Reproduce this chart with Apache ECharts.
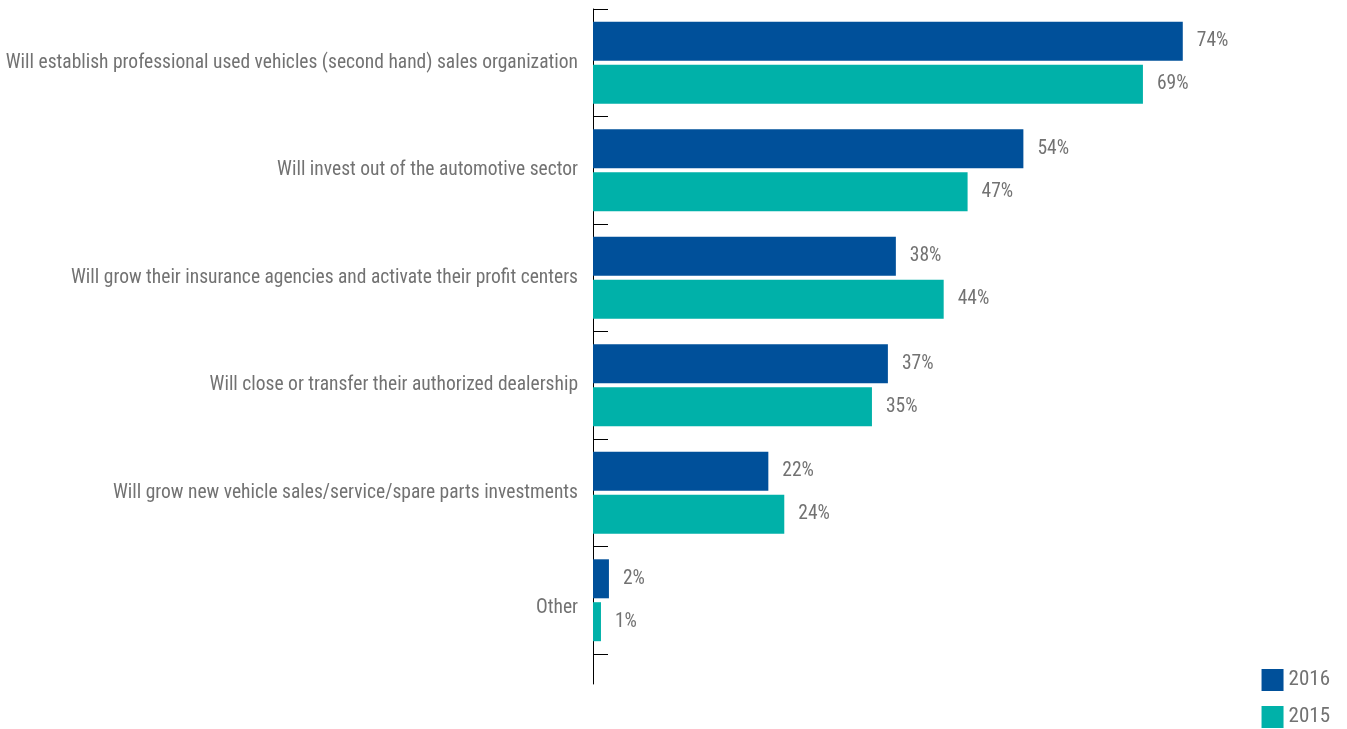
<!DOCTYPE html>
<html>
<head>
<meta charset="utf-8">
<script src="https://cdn.jsdelivr.net/npm/echarts@6/dist/echarts.min.js"></script>
<style>
html,body{margin:0;padding:0;background:#fff;}
#chart{width:1347px;height:729px;}
</style>
</head>
<body>
<div id="chart"></div>
<script>
const categories = [
  "Will establish professional used vehicles (second hand) sales organization",
  "Will invest out of the automotive sector",
  "Will grow their insurance agencies and activate their profit centers",
  "Will close or transfer their authorized dealership",
  "Will grow new vehicle sales/service/spare parts investments",
  "Other"
];
const seriesNames = ["2016", "2015"];
const values2016 = [74, 54, 38, 37, 22, 2];
const values2015 = [69, 47, 44, 35, 24, 1];

const FONT = '"Liberation Sans Narrow", "Roboto Condensed", Roboto, sans-serif';
const TEXT = '#727272';
const colors = ['#00509a', '#00b1a9'];

const chart = echarts.init(document.getElementById('chart'));
chart.setOption({
  animation: false,
  textStyle: { fontFamily: FONT },
  color: colors,
  legend: {
    orient: 'vertical',
    right: 17,
    top: 669,
    padding: 0,
    itemWidth: 22,
    itemHeight: 22,
    itemGap: 15,
    icon: 'rect',
    data: seriesNames,
    textStyle: { color: TEXT, fontSize: 21, fontFamily: FONT }
  },
  grid: [
    { left: 593, top: 9, bottom: 75, right: 116.4, containLabel: false },
    { left: 593, top: 9, bottom: 45, width: 10, containLabel: false }
  ],
  xAxis: [
    { type: 'value', gridIndex: 0, min: 0, max: 80, show: false },
    { type: 'value', gridIndex: 1, min: 0, max: 1, show: false }
  ],
  yAxis: [
    {
      type: 'category', gridIndex: 0, data: categories, inverse: true,
      axisLine: { show: false },
      axisTick: { show: true, inside: true, length: 15, lineStyle: { color: '#000', width: 1 } },
      axisLabel: {
        margin: 15, color: TEXT, fontSize: 19.5, fontFamily: FONT,
        formatter: function (v, i) { return i === categories.length - 1 ? '{o|' + v + '}' : v; },
        rich: { o: { color: TEXT, fontSize: 19.5, fontFamily: FONT, padding: [16, 0, 0, 0] } }
      }
    },
    {
      type: 'value', gridIndex: 1, min: 0, max: 1,
      axisLine: { show: true, onZero: false, lineStyle: { color: '#000', width: 1 } },
      axisTick: { show: false }, axisLabel: { show: false }, splitLine: { show: false }
    }
  ],
  series: [
    {
      name: seriesNames[0], type: 'bar', data: values2016,
      xAxisIndex: 0, yAxisIndex: 0,
      barWidth: 39, barGap: '10%',
      label: { show: true, position: 'right', distance: 14, formatter: '{c}%', color: TEXT, fontSize: 19.5, fontFamily: FONT }
    },
    {
      name: seriesNames[1], type: 'bar', data: values2015,
      xAxisIndex: 0, yAxisIndex: 0,
      barWidth: 39, barGap: '10%',
      label: { show: true, position: 'right', distance: 14, formatter: '{c}%', color: TEXT, fontSize: 19.5, fontFamily: FONT }
    }
  ]
});
</script>
</body>
</html>
